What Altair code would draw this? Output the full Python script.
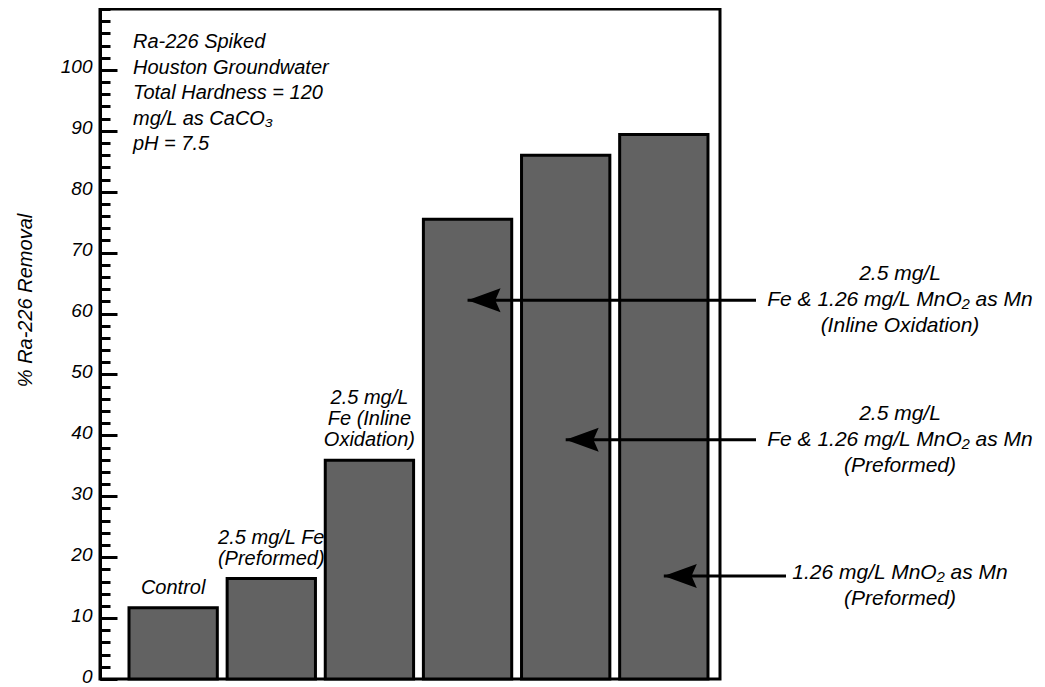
import altair as alt
import pandas as pd

# ---- data ----
categories = [
    "Control",
    "2.5 mg/L Fe (Preformed)",
    "2.5 mg/L Fe (Inline Oxidation)",
    "2.5 mg/L Fe & 1.26 mg/L MnO2 as Mn (Inline Oxidation)",
    "2.5 mg/L Fe & 1.26 mg/L MnO2 as Mn (Preformed)",
    "1.26 mg/L MnO2 as Mn (Preformed)",
]
removal = [11.7, 16.5, 35.9, 75.5, 86.0, 89.4]

labelled_bars = categories[:3]
bar_label_lines = [
    ["Control"],
    ["2.5 mg/L Fe", "(Preformed)"],
    ["2.5 mg/L", "Fe (Inline", "Oxidation)"],
]

arrow_targets = categories[3:]
arrow_levels = [62.2, 39.3, 16.9]
arrow_label_lines = [
    ["2.5 mg/L", "Fe & 1.26 mg/L MnO\u2082 as Mn", "(Inline Oxidation)"],
    ["2.5 mg/L", "Fe & 1.26 mg/L MnO\u2082 as Mn", "(Preformed)"],
    ["1.26 mg/L MnO\u2082 as Mn", "(Preformed)"],
]

info_lines = [
    "Ra-226 Spiked",
    "Houston Groundwater",
    "Total Hardness = 120",
    "mg/L as CaCO\u2083",
    "pH = 7.5",
]

y_title = "% Ra-226 Removal"
major_ticks = list(range(0, 101, 10))
minor_ticks = list(range(0, 111, 2))
y_domain = [0, 110]

# ---- tables ----
bars_df = pd.DataFrame({"category": categories, "removal": removal})
bar_labels_df = pd.DataFrame({
    "category": labelled_bars,
    "removal": removal[:3],
    "label": bar_label_lines,
    "nlines": [len(l) for l in bar_label_lines],
})
arrows_df = pd.DataFrame({
    "category": arrow_targets,
    "level": arrow_levels,
    "label": arrow_label_lines,
    "nlines": [len(l) for l in arrow_label_lines],
})

FONT = "Liberation Sans"
W, H = 620, 670
TXT = 20
ARW_TXT = 21
BAR_LH = 21
ARW_LH = 26

x_enc = alt.X(
    "category:N",
    sort=categories,
    axis=None,
    scale=alt.Scale(paddingInner=0.1, paddingOuter=0.209, align=0.707),
)
y_scale = alt.Scale(domain=y_domain, nice=False, zero=True)

bars = alt.Chart(bars_df).mark_bar(
    fill="#626262", stroke="black", strokeWidth=3
).encode(
    x=x_enc,
    y=alt.Y(
        "removal:Q",
        scale=y_scale,
        axis=alt.Axis(
            title=y_title,
            values=major_ticks,
            ticks=False,
            tickSize=0,
            labelPadding=8,
            labelOffset=-3,
            domain=True,
            domainWidth=3,
            domainColor="black",
            grid=False,
            labelFont=FONT,
            labelFontSize=19,
            labelFontStyle="italic",
            labelColor="black",
            titleFont=FONT,
            titleFontSize=20,
            titleFontStyle="italic",
            titleFontWeight="normal",
            titleColor="black",
            titleAngle=270,
            titleX=-75,
            titleY=291,
            titleAlign="center",
            titleBaseline="middle",
        ),
    ),
)

def tick_layer(values, size):
    return alt.Chart(bars_df).mark_point(opacity=0).encode(
        x=x_enc,
        y=alt.Y(
            "removal:Q",
            scale=y_scale,
            axis=alt.Axis(
                orient="right",
                offset=-W,
                values=values,
                labels=False,
                domain=False,
                grid=False,
                ticks=True,
                tickSize=size,
                tickWidth=3,
                tickColor="black",
                title=None,
            ),
        ),
    )

minor = tick_layer(minor_ticks, 10)
major = tick_layer(major_ticks, 17)

bar_text_layers = []
for n in sorted(set(bar_labels_df["nlines"])):
    bar_text_layers.append(
        alt.Chart(bar_labels_df).transform_filter(
            alt.datum.nlines == int(n)
        ).mark_text(
            font=FONT, fontSize=TXT, fontStyle="italic", align="center",
            baseline="bottom", dy=-10 - (int(n) - 1) * BAR_LH,
            lineHeight=BAR_LH, color="black",
        ).encode(
            x=x_enc,
            y=alt.Y("removal:Q", scale=y_scale, axis=None),
            text="label",
        )
    )

rule_near = alt.Chart(arrows_df).transform_filter(
    alt.FieldOneOfPredicate(field="category", oneOf=arrow_targets[:2])
).mark_rule(color="black", strokeWidth=3).encode(
    x=x_enc, x2=alt.value(656),
    y=alt.Y("level:Q", scale=y_scale, axis=None),
)
rule_far = alt.Chart(arrows_df).transform_filter(
    alt.FieldOneOfPredicate(field="category", oneOf=arrow_targets[2:])
).mark_rule(color="black", strokeWidth=3).encode(
    x=x_enc, x2=alt.value(686),
    y=alt.Y("level:Q", scale=y_scale, axis=None),
)

heads = alt.Chart(arrows_df).mark_point(
    shape="M0,0 L2.2,-0.8 L1.85,0 L2.2,0.8 Z",
    size=900, filled=True, color="black", opacity=1, strokeWidth=0,
).encode(
    x=x_enc,
    y=alt.Y("level:Q", scale=y_scale, axis=None),
)

# first line is drawn at y; 3-line labels put their 2nd line on the arrow
arrow_text3 = alt.Chart(arrows_df).transform_filter(
    alt.datum.nlines == 3
).mark_text(
    font=FONT, fontSize=ARW_TXT, fontStyle="italic", align="center",
    baseline="middle", lineHeight=ARW_LH, dy=-ARW_LH, color="black",
).encode(
    x=alt.value(800),
    y=alt.Y("level:Q", scale=y_scale, axis=None),
    text="label",
)
arrow_text2 = alt.Chart(arrows_df).transform_filter(
    alt.datum.nlines == 2
).mark_text(
    font=FONT, fontSize=ARW_TXT, fontStyle="italic", align="center",
    baseline="middle", lineHeight=ARW_LH, dy=-3, color="black",
).encode(
    x=alt.value(800),
    y=alt.Y("level:Q", scale=y_scale, axis=None),
    text="label",
)

info = alt.Chart(pd.DataFrame({"k": [0]})).mark_text(
    text=info_lines, font=FONT, fontSize=TXT, fontStyle="italic",
    align="left", baseline="alphabetic", lineHeight=25.5, color="black",
).encode(x=alt.value(33), y=alt.value(39))

chart = alt.layer(
    bars, minor, major, *bar_text_layers, rule_near, rule_far, heads,
    arrow_text3, arrow_text2, info,
).resolve_axis(y="independent").properties(
    width=W, height=H,
    autosize=alt.AutoSizeParams(type="none"),
    padding={"left": 92, "top": 1, "right": 317, "bottom": 8},
).configure(
    font=FONT, background="white"
).configure_view(
    stroke="black", strokeWidth=3
)

chart.save("out.html", embed_options={"renderer": "svg", "actions": False})
